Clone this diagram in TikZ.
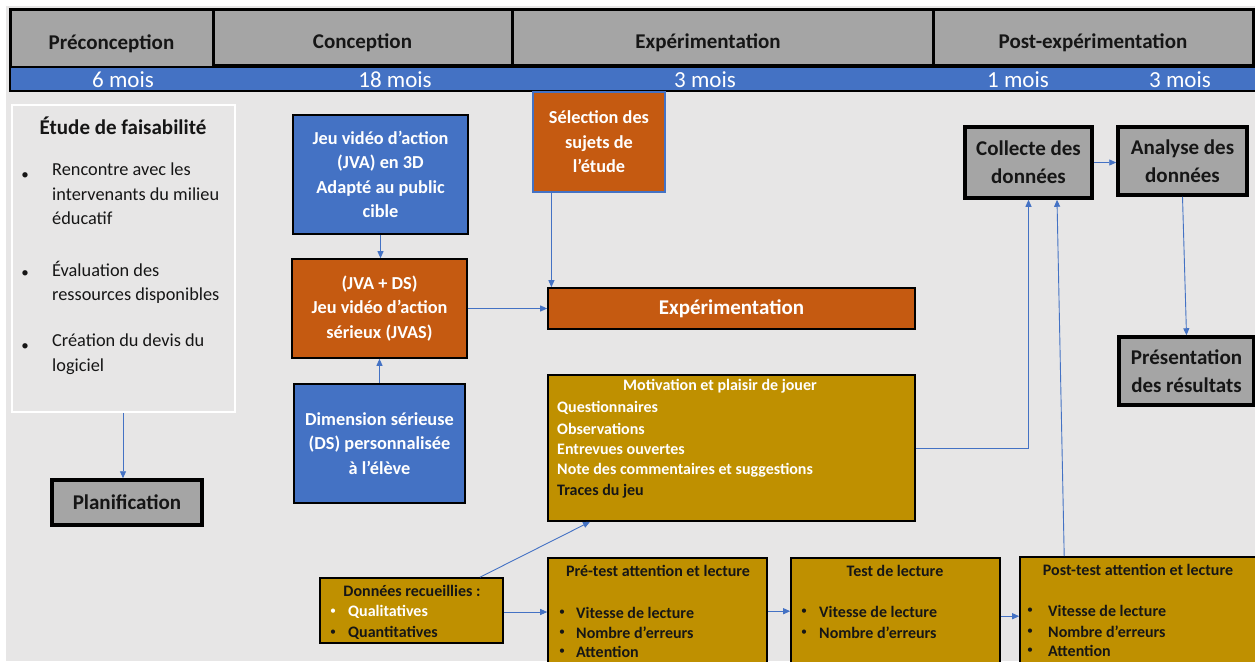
\documentclass[tikz,border=0pt]{standalone}
\usepackage{fontspec}
\setmainfont{Carlito}
\usetikzlibrary{arrows.meta}
\definecolor{bgray}{HTML}{E7E6E6}
\definecolor{hgray}{HTML}{A5A5A5}
\definecolor{sblue}{HTML}{4472C4}
\definecolor{sorange}{HTML}{C55A11}
\definecolor{smustard}{HTML}{BF9000}
\definecolor{ink}{HTML}{161616}
\newcommand\fsz[2]{\fontsize{#1}{#2}\selectfont}

\begin{document}
\begin{tikzpicture}[x=1pt,y=-1pt,
  box/.style={rectangle, inner sep=0pt, align=center},
  hdr/.style={box, fill=hgray, draw=black, line width=3pt},
  hdrtext/.style={inner sep=0pt, text=ink, font=\fsz{21}{24}\bfseries},
  band/.style={box, fill=sblue, draw=black, line width=2pt},
  bandtext/.style={inner sep=0pt, text=white, font=\fsz{23}{26}},
  graybox/.style={box, fill=hgray, draw=black, line width=3.5pt, text=ink, font=\fsz{21}{28}\bfseries},
  bluebox/.style={box, fill=sblue, draw=black, line width=1.6pt, text=white, font=\fsz{18.3}{24.5}\bfseries},
  orangebox/.style={box, fill=sorange, draw=black, line width=1.6pt, text=white, font=\fsz{18.3}{24.5}\bfseries},
  mustbox/.style={box, fill=smustard, draw=black, line width=1.6pt},
  small/.style={inner sep=0pt, font=\fsz{16}{19}\bfseries},
  dot/.style={inner sep=0pt, font=\fsz{12}{13}},
  bigdot/.style={inner sep=0pt, font=\fsz{15}{16}},
  bodytext/.style={inner sep=0pt, align=left, text=ink, font=\fsz{18.3}{24.5}},
  arr/.style={draw=sblue, line width=0.9pt, -{Triangle[length=7pt,width=6pt]}},
]
\useasboundingbox (0,0) rectangle (1255,661);
\clip (0,0) rectangle (1255,661);
\fill[white] (0,0) rectangle (1255,661);
\fill[bgray] (6,6) rectangle (1255,661);

% ---- phase header ----
\node[hdr, minimum width=320pt, minimum height=56pt] (hpost) at (1093,38) {};
\node[hdr, minimum width=421pt, minimum height=56pt] (hexp) at (722.5,38) {};
\node[hdr, minimum width=299pt, minimum height=56pt] (hcon) at (362.5,38) {};
\node[hdr, minimum width=203pt, minimum height=58pt] (hpre) at (111.5,39) {};
\node[hdrtext] (tpre) at (111.5,44) {Préconception};
\node[hdrtext] (tcon) at (362.5,43) {Conception};
\node[hdrtext] (texp) at (708,43) {Expérimentation};
\node[hdrtext] (tpost) at (1093,43) {Post-expérimentation};

% ---- durations ----
\node[band, minimum width=1247pt, minimum height=23pt] (band) at (633.5,79) {};
\node[bandtext] (d1) at (123,80) {6 mois};
\node[bandtext] (d2) at (395,80) {18 mois};
\node[bandtext] (d3) at (705,80) {3 mois};
\node[bandtext] (d4) at (1018,80) {1 mois};
\node[bandtext] (d5) at (1180,80) {3 mois};

% ---- feasibility study ----
\node[box, fill=bgray, draw=white, line width=1.5pt, minimum width=223pt, minimum height=307pt] (etude) at (123.5,258.5) {};
\node[inner sep=0pt, text=ink, font=\fsz{21}{24}\bfseries] (etitle) at (123,126) {Étude de faisabilité};
\node[bigdot, text=ink] (eb1) at (25,176) {•};
\node[bigdot, text=ink] (eb2) at (25,274) {•};
\node[bigdot, text=ink] (eb3) at (25,347) {•};
\node[bodytext, anchor=north west] (e1) at (52,163) {Rencontre avec les\\intervenants du milieu\\éducatif};
\node[bodytext, anchor=north west] (e2) at (52,261) {Évaluation des\\ressources disponibles};
\node[bodytext, anchor=north west] (e3) at (52,334) {Création du devis du\\logiciel};

\node[graybox, minimum width=150pt, minimum height=45pt] (planif) at (127,502.5) {Planification};

% ---- design ----
\node[bluebox, minimum width=175pt, minimum height=119pt] (jva) at (380.5,174.5)
  {Jeu vidéo d’action\\(JVA) en 3D\\Adapté au public\\cible};
\node[orangebox, minimum width=175pt, minimum height=99pt] (jvas) at (379.5,308.5)
  {(JVA + DS)\\Jeu vidéo d’action\\sérieux (JVAS)};
\node[bluebox, minimum width=171pt, minimum height=119pt] (ds) at (379.5,443.5)
  {Dimension sérieuse\\(DS) personnalisée\\à l’élève};

% ---- experimentation ----
\node[box, fill=sorange, draw=sblue, line width=1.2pt, text=white, font=\fsz{18.3}{24.5}\bfseries,
  minimum width=132pt, minimum height=100pt] (sel) at (599,142) {Sélection des\\sujets de\\l’étude};
\node[orangebox, font=\fsz{21}{24}\bfseries, minimum width=367pt, minimum height=41pt] (exp) at (731.5,308.5) {Expérimentation};

\node[mustbox, minimum width=367pt, minimum height=146pt] (mot) at (731.5,448) {};
\node[small, text=white] (mtitle) at (720,386) {Motivation et plaisir de jouer};
\node[small, text=white, anchor=west] (m1) at (557,408) {Questionnaires};
\node[small, text=white, anchor=west] (m2) at (557,429) {Observations};
\node[small, text=white, anchor=west] (m3) at (557,449) {Entrevues ouvertes};
\node[small, text=white, anchor=west] (m4) at (557,470) {Note des commentaires et suggestions};
\node[small, text=ink, anchor=west] (m5) at (557,491) {Traces du jeu};

% ---- measures ----
\node[mustbox, minimum width=183pt, minimum height=65pt] (donnees) at (411.5,610.5) {};
\node[small, text=ink] (dtitle) at (412,591) {Données recueillies :};
\node[dot, text=white] (db1) at (333,612) {•};
\node[small, text=white, anchor=west] (dq1) at (348,612) {Qualitatives};
\node[dot, text=ink] (db2) at (333,633) {•};
\node[small, text=ink, anchor=west] (dq2) at (348,633) {Quantitatives};

\node[mustbox, minimum width=219pt, minimum height=150pt] (pretest) at (657.5,633) {};
\node[small, text=ink] (ptitle) at (658,571) {Pré-test attention et lecture};
\node[dot, text=ink] (pb1) at (562,613) {•};
\node[small, text=ink, anchor=west] (p1) at (576,613) {Vitesse de lecture};
\node[dot, text=ink] (pb2) at (562,633) {•};
\node[small, text=ink, anchor=west] (p2) at (576,633) {Nombre d’erreurs};
\node[dot, text=ink] (pb3) at (562,652) {•};
\node[small, text=ink, anchor=west] (p3) at (576,652) {Attention};

\node[mustbox, minimum width=209pt, minimum height=150pt] (test) at (895.5,633) {};
\node[small, text=ink] (ttitle) at (895,571) {Test de lecture};
\node[dot, text=ink] (tb1) at (804,612) {•};
\node[small, text=ink, anchor=west] (t1) at (819,612) {Vitesse de lecture};
\node[dot, text=ink] (tb2) at (804,633) {•};
\node[small, text=ink, anchor=west] (t2) at (819,633) {Nombre d’erreurs};

\node[mustbox, minimum width=250pt, minimum height=150pt] (post) at (1145,632) {};
\node[small, text=ink] (otitle) at (1138,570) {Post-test attention et lecture};
\node[dot, text=ink] (ob1) at (1030,611) {•};
\node[small, text=ink, anchor=west] (o1) at (1048,611) {Vitesse de lecture};
\node[dot, text=ink] (ob2) at (1030,632) {•};
\node[small, text=ink, anchor=west] (o2) at (1048,632) {Nombre d’erreurs};
\node[dot, text=ink] (ob3) at (1030,651) {•};
\node[small, text=ink, anchor=west] (o3) at (1048,651) {Attention};

% ---- post-experimentation ----
\node[graybox, minimum width=127pt, minimum height=71pt] (collecte) at (1028.5,162.5) {Collecte des\\données};
\node[graybox, minimum width=129pt, minimum height=68pt] (analyse) at (1182.5,161) {Analyse des\\données};
\node[graybox, minimum width=135pt, minimum height=68pt] (pres) at (1186.5,371) {Présentation\\des résultats};

% ---- connectors ----
\draw[arr] ([xshift=-0.5pt]etude.south) -- ([xshift=-0.5pt]etude.south |- planif.north);
\draw[arr] (jva.south) -- (jva.south |- jvas.north);
\draw[arr] (ds.north) -- (jvas.south);
\draw[arr] (jvas.east) -- (jvas.east -| exp.west);
\draw[arr] ([xshift=19pt]sel.south west) -- ([xshift=19pt]sel.south west |- exp.north);
\draw[arr] (mot.east) -| (collecte.south);
\draw[arr] ([xshift=45pt]post.north west) -- ([xshift=28.5pt]collecte.south);
\draw[arr] (collecte.east) -- (collecte.east -| analyse.west);
\draw[arr] (analyse.south) -- (pres.north);
\draw[arr] ([xshift=68.5pt]donnees.north) -- ([xshift=-141.5pt]mot.south);
\draw[arr] ([yshift=-1.5pt]donnees.east) -- ([yshift=-1.5pt]donnees.east -| pretest.west);
\coordinate (pte) at ([yshift=-54pt]pretest.north east);
\draw[arr] (pte) -- (pte -| test.west);
\coordinate (tte) at ([yshift=-59pt]test.north east);
\draw[arr] (tte) -- (tte -| post.west);
\end{tikzpicture}
\end{document}
